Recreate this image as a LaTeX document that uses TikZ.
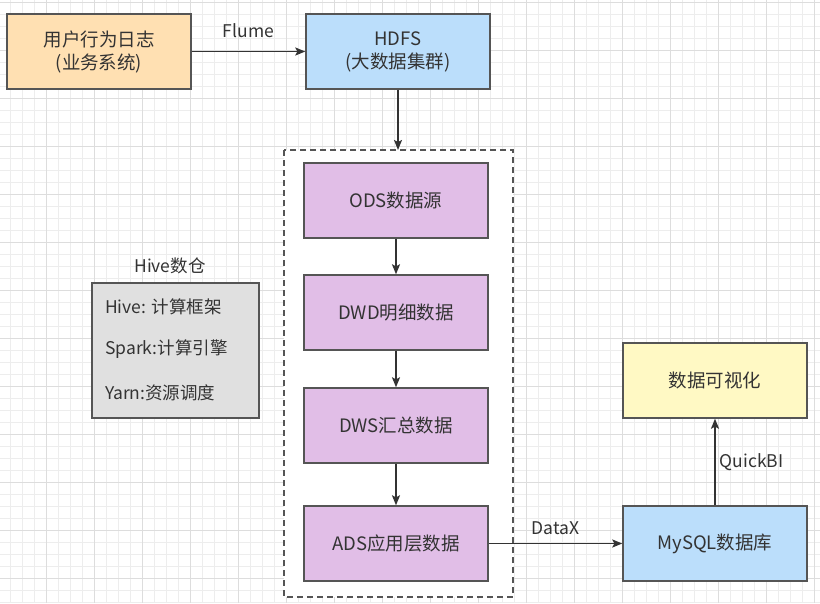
\documentclass[tikz,border=0pt]{standalone}
\usepackage{fontspec}
\setmainfont{Noto Sans CJK SC}
\usetikzlibrary{arrows.meta}

\definecolor{gridminor}{HTML}{EDEDED}
\definecolor{gridmajor}{HTML}{DDDDDD}
\definecolor{edgegray}{HTML}{555555}
\definecolor{txtgray}{HTML}{333333}
\definecolor{logfill}{HTML}{FFE0B2}
\definecolor{bluefill}{HTML}{BBDEFB}
\definecolor{layerfill}{HTML}{E1BEE7}
\definecolor{visfill}{HTML}{FFF9C4}
\definecolor{hivefill}{HTML}{E0E0E0}

\tikzset{
  box/.style={draw=edgegray, line width=1.4pt, minimum width=184pt, minimum height=75pt,
    inner sep=0pt, align=center, text=txtgray, font=\fontsize{18.5}{23}\selectfont},
  flow/.style={draw=txtgray, line width=1.4pt, -{Stealth[length=10pt,width=8pt,inset=2pt]}},
  lbl/.style={text=txtgray, font=\fontsize{17.5}{21}\selectfont, inner sep=0pt}
}

\begin{document}
\begin{tikzpicture}[x=1pt, y=-1pt]
        \useasboundingbox (0,0) rectangle (820,603);
        % background grid
        \fill[white] (0,0) rectangle (820,603);
        \foreach \gx in {10,22,...,820} \draw[gridminor, line width=0.8pt] (\gx,0) -- (\gx,603);
        \foreach \gy in {2,14,...,603} \draw[gridminor, line width=0.8pt] (0,\gy) -- (820,\gy);
        \foreach \gx in {46,94,...,820} \draw[gridmajor, line width=0.8pt] (\gx,0) -- (\gx,603);
        \foreach \gy in {2,50,...,603} \draw[gridmajor, line width=0.8pt] (0,\gy) -- (820,\gy);

        % warehouse container
        \filldraw[fill=white, draw=edgegray, line width=1.4pt, dash pattern=on 6pt off 4pt] (284,150) rectangle (513,597);
        \coordinate (dwtop) at (398,150);

        \node[box, fill=logfill] (log) at (99,51.5) {用户行为日志\\(业务系统)};
        \node[box, fill=bluefill] (hdfs) at (398,51.5) {HDFS\\(大数据集群)};
        \node[box, fill=layerfill] (ods) at (396,200.5) {ODS数据源};
        \node[box, fill=layerfill] (dwd) at (396,312.5) {DWD明细数据};
        \node[box, fill=layerfill] (dws) at (396,425.5) {DWS汇总数据};
        \node[box, fill=layerfill] (ads) at (396,543.5) {ADS应用层数据};
        \node[box, fill=bluefill] (mysql) at (715,543.5) {MySQL数据库};
        \node[box, fill=visfill] (vis) at (715,380.5) {数据可视化};

        % hive side panel
        \node[box, fill=hivefill, minimum width=167pt, minimum height=135pt] (hive) at (175.5,350.5) {};
        \node[lbl] (hivetitle) at (170,266) {Hive数仓};
        \node[lbl, anchor=west] (hiveA) at (105,307) {Hive: 计算框架};
        \node[lbl, anchor=west] (hiveB) at (105,349) {Spark:计算引擎};
        \node[lbl, anchor=west] (hiveC) at (105,393) {Yarn:资源调度};

        \draw[flow] (log) -- node[lbl, above=13pt] {Flume} (hdfs);
        \draw[flow] (hdfs.south) -- (dwtop);
        \draw[flow] (ods) -- (dwd);
        \draw[flow] (dwd) -- (dws);
        \draw[flow] (dws) -- (ads);
        \draw[flow] (ads) -- node[lbl, above=8pt] {DataX} (mysql);
        \draw[flow] (mysql) -- node[lbl, right=4pt] {QuickBI} (vis);
        \end{tikzpicture}
\end{document}
